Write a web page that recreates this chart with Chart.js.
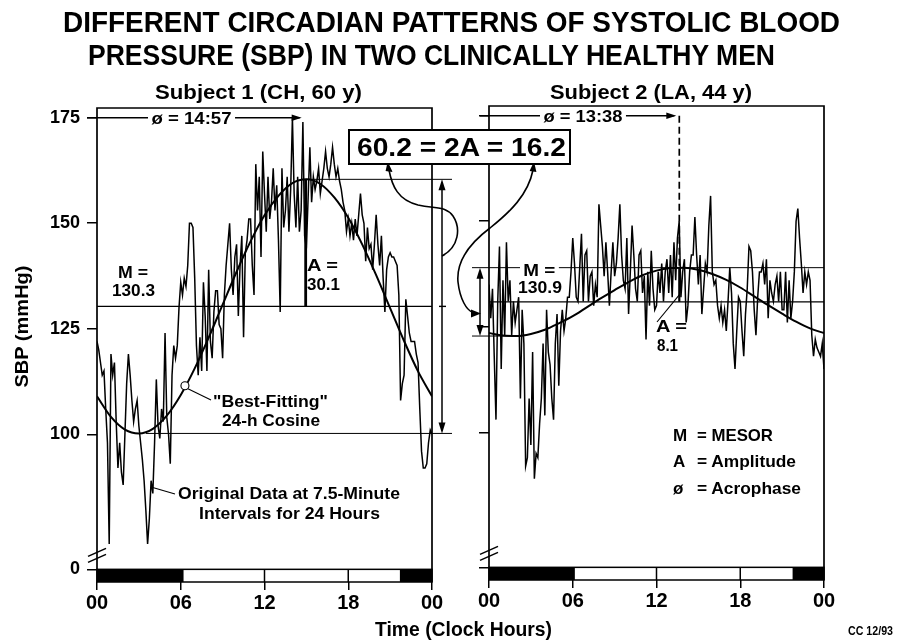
<!DOCTYPE html>
<html><head><meta charset="utf-8">
<script src="https://cdn.jsdelivr.net/npm/chart.js@4.4.1/dist/chart.umd.min.js"></script>
<style>
html,body{margin:0;padding:0;background:#fff;}
#wrap{position:relative;width:904px;height:641px;overflow:hidden;background:#fff;font-family:"Liberation Sans",Arial,sans-serif;font-weight:bold;color:#000;}
canvas{position:absolute;top:0;}
.t{position:absolute;white-space:nowrap;line-height:1;transform-origin:left top;}
#ov{position:absolute;left:0;top:0;}
#box{position:absolute;box-sizing:border-box;border:2px solid #000;background:#fff;}
</style></head><body>
<div id="wrap">
<canvas id="c1" width="452" height="641" style="left:0;width:452px;height:641px"></canvas>
<canvas id="c2" width="452" height="641" style="left:452px;width:452px;height:641px"></canvas>
<svg id="ov" width="904" height="641"></svg>
<div id="box" style="left:348px;top:129px;width:223px;height:36px"></div>
</div>
<script>
// ---------- data ----------
const xTickValues = [0, 6, 12, 18, 24];
const xTickLabels = ['00', '06', '12', '18', '00'];
const yTickValues = [68, 100, 125, 150, 175];
const yTickLabels = ['0', '100', '125', '150', '175'];
const sampleMinutes = 7.5;

// Subject 1 (CH, 60 y): SBP every 7.5 min, 00:00 -> 24:00
const sbpSubject1 = [
 122,120,117,114,115,106,98,74,
 119,114,117,103,92,98,91,88,
 100,112,119,114,108,103,106,108,
 102,98,94,89,82,74,80,89,
 86,98,113,102,99,106,103,124,
 104,100,93,114,121,118,121,130,
 136,133,137,135,140,150,150,149,
 137,121,114,123,115,136,128,115,
 139,122,118,129,134,134,126,125,
 118,133,140,145,150,139,133,142,
 145,128,140,147,123,143,146,151,
 151,140,133,164,153,161,142,167,
 157,148,161,151,155,163,153,159,
 146,129,163,149,153,161,148,158,
 175,157,149,161,148,153,174,147,
 144,156,168,155,161,158,160,163,
 157,160,163,167,163,161,164,168,
 164,161,163,160,158,155,153,148,
 151,147,150,146,151,147,152,157,
 152,150,141,149,144,145,139,145,
 152,145,140,147,137,129,139,142,
 143,142,142,141,140,133,108,112,
 114,132,128,124,122,122,122,119,
 117,106,96,92,92,93,98,101,
 100];

// Subject 2 (LA, 44 y)
const sbpSubject2 = [
 135,127,134,118,103,131,144,115,
 136,123,145,131,136,123,131,126,
 129,132,108,129,121,92,94,108,
 97,119,89,95,94,102,108,121,
 104,129,119,116,108,103,121,128,
 111,124,129,124,127,132,132,138,
 146,140,132,131,139,147,131,142,
 143,131,137,138,130,135,132,154,
 149,144,137,145,138,130,138,145,
 137,140,146,154,142,136,134,146,
 128,138,149,142,134,131,142,143,
 133,137,122,138,130,143,134,129,
 130,138,133,140,131,138,141,133,
 142,132,145,136,146,150,132,138,
 141,126,130,138,142,142,151,142,
 135,142,128,134,140,138,149,156,
 138,135,136,130,127,130,126,129,
 124,131,139,133,121,115,124,132,
 131,124,118,128,134,144,143,138,
 129,123,132,138,138,140,135,141,
 127,136,133,131,135,137,131,138,
 129,129,138,126,136,127,131,138,
 150,153,146,140,133,138,135,138,
 136,123,118,122,120,119,118,121,
 115];

// best-fitting 24-h cosine, read hourly
const cosineHours = [0,1,2,3,4,5,6,7,8,9,10,11,12,13,14,15,16,17,18,19,20,21,22,23,24];
const cosineSubject1 = [109.0,104.1,101.1,100.2,101.3,104.4,109.3,115.6,122.9,130.7,138.5,145.7,151.9,156.5,159.5,160.4,159.3,156.1,151.3,145.0,137.7,129.9,122.1,114.9,109.0];
const cosineSubject2 = [123.5,122.9,122.8,123.3,124.3,125.8,127.5,129.6,131.7,133.7,135.6,137.2,138.3,138.9,139.0,138.5,137.5,136.1,134.3,132.2,130.1,128.1,126.2,124.6,123.5];

const mesor = [130.3, 130.9];
const amplitude = [30.1, 8.1];
const acrophaseHours = [14.95, 13.633];
const acrophaseLabels = ['14:57', '13:38'];
const sleepEndHours = [6.2, 6.15];
const sleepStartHours = [21.7, 21.75];

// ---------- drawing ----------
Chart.defaults.font.family = '"Liberation Sans", Arial, sans-serif';
Chart.defaults.color = '#000';
const wrap = document.getElementById('wrap');

function seg(ctx, x1, y1, x2, y2, w) { ctx.lineWidth = w; ctx.beginPath(); ctx.moveTo(x1, y1); ctx.lineTo(x2, y2); ctx.stroke(); }
function head(ctx, x, y, ang, len, hw) {
  ctx.save(); ctx.translate(x, y); ctx.rotate(ang);
  ctx.beginPath(); ctx.moveTo(0, 0); ctx.lineTo(-len, -hw); ctx.lineTo(-len, hw); ctx.closePath(); ctx.fill();
  ctx.restore();
}

const annotPlugin = {
  id: 'annot',
  afterDraw(chart, args, o) {
    const ctx = chart.ctx, a = chart.chartArea;
    const X = v => chart.scales.x.getPixelForValue(v), Y = v => chart.scales.y.getPixelForValue(v);
    ctx.save(); ctx.strokeStyle = '#000'; ctx.fillStyle = '#000';
    // frame
    ctx.lineWidth = 1.7; ctx.beginPath();
    ctx.moveTo(a.left, a.bottom); ctx.lineTo(a.left, a.top); ctx.lineTo(a.right, a.top); ctx.lineTo(a.right, a.bottom); ctx.stroke();
    // light/dark bar
    const yb = Y(yTickValues[0]);
    ctx.fillRect(X(0), yb, X(o.sleepEnd) - X(0), a.bottom - yb);
    ctx.fillRect(X(o.sleepStart), yb, X(24) - X(o.sleepStart), a.bottom - yb);
    ctx.lineWidth = 1.5; ctx.strokeRect(X(0), yb, X(24) - X(0), a.bottom - yb);
    [12, 18].forEach(h => seg(ctx, X(h), yb, X(h), a.bottom, 1.5));
    // axis break
    seg(ctx, a.left - 9, yb - 13, a.left + 9, yb - 21, 1.5);
    seg(ctx, a.left - 9, yb - 7, a.left + 9, yb - 15, 1.5);

    const M = o.mesor, A = o.amp, P = X(o.acro), yP = Y(M + A), yT = Y(M - A), yM = Y(M), y175 = Y(175);
    if (o.side === 'L') {
      seg(ctx, a.left, yM, a.right, yM, 1.4);
      seg(ctx, a.right + 7, yM, a.right + 14, yM, 1.4);
      seg(ctx, P, yP, a.right + 20, yP, 1);
      seg(ctx, X(3.5), yT, a.right + 21, yT, 1);
      seg(ctx, P, yP, P, yM, 2.8);
      const dx = a.right + 10;
      seg(ctx, dx, yP + 3, dx, yT - 3, 1.5);
      head(ctx, dx, yP, -Math.PI / 2, 11, 3.5); head(ctx, dx, yT, Math.PI / 2, 11, 3.5);
      seg(ctx, a.left - 10, y175, P - 6, y175, 1.4); head(ctx, P - 4, y175, 0, 10, 3.2);
      // circle on cosine + leader
      const cx = X(6.3), cy = Y(111.5);
      seg(ctx, cx + 3, cy + 3, 211, 400, 1.1);
      ctx.beginPath(); ctx.arc(cx, cy, 4, 0, 2 * Math.PI); ctx.fillStyle = '#fff'; ctx.fill(); ctx.lineWidth = 1.1; ctx.stroke();
      ctx.fillStyle = '#000';
      // leader to original data
      seg(ctx, 151, 487, 175, 494, 1.1);
    } else {
      seg(ctx, a.left, yM, a.right, yM, 1.4);
      seg(ctx, a.left - 17, yP, a.right, yP, 1);
      seg(ctx, a.left - 17, yT, X(2.4), yT, 1);
      ctx.setLineDash([7, 4]); seg(ctx, P, y175, P, yP, 1.7); ctx.setLineDash([]);
      seg(ctx, P, yP, P, yM, 2.2);
      const dx = a.left - 9;
      seg(ctx, dx, yP + 3, dx, yT - 3, 1.5);
      head(ctx, dx, yP, -Math.PI / 2, 11, 3.5); head(ctx, dx, yT, Math.PI / 2, 11, 3.5);
      seg(ctx, a.left - 9, y175, P - 5, y175, 1.4); head(ctx, P - 3, y175, 0, 10, 3.2);
      // leader from "A =" label
      seg(ctx, 657 - 452, 322, P, yM - 7, 1.1);
    }
    ctx.restore();
  }
};

function makeChart(id, values, cosVals, k, layout) {
  const stepH = sampleMinutes / 60;
  return new Chart(document.getElementById(id), {
    type: 'line',
    data: {
      datasets: [
        { data: values.map((v, i) => ({ x: i * stepH, y: v })), borderColor: '#000', borderWidth: 1.5, pointRadius: 0, tension: 0 },
        { data: cosVals.map((v, i) => ({ x: cosineHours[i], y: v })), borderColor: '#000', borderWidth: 2, pointRadius: 0, cubicInterpolationMode: 'monotone' }
      ]
    },
    options: {
      responsive: false, animation: false, devicePixelRatio: 1,
      layout: { padding: { top: layout.top, right: layout.right, left: 0, bottom: 0 } },
      plugins: {
        legend: { display: false }, tooltip: { enabled: false },
        annot: { side: k === 0 ? 'L' : 'R', mesor: mesor[k], amp: amplitude[k], acro: acrophaseHours[k], sleepEnd: sleepEndHours[k], sleepStart: sleepStartHours[k] }
      },
      scales: {
        x: {
          type: 'linear', min: 0, max: 24,
          afterBuildTicks: s => { s.ticks = xTickValues.map(v => ({ value: v })); },
          afterFit: s => { s.height = layout.xh; },
          ticks: { callback: (v, i) => xTickLabels[i], font: { size: 20, weight: 'bold' }, color: '#000', padding: 1, maxRotation: 0, autoSkip: false },
          grid: { display: true, drawOnChartArea: false, drawTicks: true, tickLength: 8, color: '#000', lineWidth: 1.5 },
          border: { display: false }
        },
        y: {
          type: 'linear', min: 65, max: 177.3,
          afterBuildTicks: s => { s.ticks = yTickValues.map(v => ({ value: v })); },
          afterFit: s => { s.width = layout.yw; },
          ticks: { callback: (v, i) => k === 0 ? yTickLabels[i] : '', font: { size: 18, weight: 'bold' }, color: '#000', padding: 7, autoSkip: false },
          grid: { display: true, drawOnChartArea: false, drawTicks: true, tickLength: 10, color: '#000', lineWidth: 1.5 },
          border: { display: false }
        }
      }
    },
    plugins: [annotPlugin]
  });
}

makeChart('c1', sbpSubject1, cosineSubject1, 0, { top: 108, right: 20, xh: 59, yw: 97 });
makeChart('c2', sbpSubject2, cosineSubject2, 1, { top: 106, right: 80, xh: 61, yw: 37 });

// ---------- text ----------
function label(text, x, cy, w, fs, align, bg) {
  const d = document.createElement('div'); d.className = 't'; d.textContent = text; d.style.fontSize = fs + 'px';
  if (bg) { d.style.background = '#fff'; d.style.padding = '0 3px'; }
  wrap.appendChild(d);
  const nw = d.getBoundingClientRect().width;
  const inner = nw - (bg ? 6 : 0);
  const s = w ? w / inner : 1;
  const left = align === 'l' ? x - (bg ? 3 * s : 0) : x - nw * s / 2;
  d.style.left = left + 'px'; d.style.top = (cy - 0.482 * fs) + 'px'; d.style.transform = 'scaleX(' + s + ')';
  return d;
}
function vlabel(text, cx, cy, len, fs) {
  const d = document.createElement('div'); d.className = 't'; d.textContent = text; d.style.fontSize = fs + 'px';
  wrap.appendChild(d);
  const nw = d.getBoundingClientRect().width; const s = len / nw;
  d.style.left = (cx - nw / 2) + 'px'; d.style.top = (cy - fs / 2) + 'px';
  d.style.transformOrigin = 'center center'; d.style.transform = 'rotate(-90deg) scaleX(' + s + ')';
}

label('DIFFERENT CIRCADIAN PATTERNS OF SYSTOLIC BLOOD', 451.5, 21.5, 777, 29);
label('PRESSURE (SBP) IN TWO CLINICALLY HEALTHY MEN', 431.5, 54.5, 687, 29);
label('Subject 1 (CH, 60 y)', 258.5, 92, 207, 20);
label('Subject 2 (LA, 44 y)', 651, 92, 202, 20);
vlabel('SBP (mmHg)', 22, 326, 122, 19);
label('Time (Clock Hours)', 463.5, 628.5, 177, 20);
label('CC 12/93', 870.5, 631, 45, 12);

label('\u00f8 = ' + acrophaseLabels[0], 191, 118.5, 80, 16, 'c', true);
label('M =', 133, 272, 30, 17);
label(String(mesor[0]), 133.5, 290, 43, 17);
label('A =', 322.5, 265.5, 31, 17);
label(String(amplitude[0]), 323.5, 284, 33, 17);
label('"Best-Fitting"', 270.5, 401, 115, 17);
label('24-h Cosine', 271, 420, 98, 17);
label('Original Data at 7.5-Minute', 289, 493, 222, 17);
label('Intervals for 24 Hours', 289.5, 513, 181, 17);

label('\u00f8 = ' + acrophaseLabels[1], 582.5, 117, 79, 16, 'c', true);
label('M =', 539, 270, 32, 17, 'c', true);
label(String(mesor[1]), 540, 287.5, 44, 17);
label('A =', 671.5, 326.5, 31, 17);
label(String(amplitude[1]), 667.5, 345, 21, 17);

label('M', 673, 435, null, 17, 'l');
label('= MESOR', 697, 435, 76, 17, 'l');
label('A', 673, 461.5, null, 17, 'l');
label('= Amplitude', 697, 461.5, 99, 17, 'l');
label('\u00f8', 673, 488, null, 17, 'l');
label('= Acrophase', 697, 488, 104, 17, 'l');

label((2 * amplitude[0]).toFixed(1) + ' = 2A = ' + (2 * amplitude[1]).toFixed(1), 461.5, 146.5, 209, 26);

// curved pointers between the panels
const svg = document.getElementById('ov');
svg.innerHTML =
  '<g fill="none" stroke="#000" stroke-width="1.6">' +
  '<path d="M 389 170 C 392 186 398 200 418 205 C 436 209 446 206 453 216 C 461 228 459 247 442 256"/>' +
  '<path d="M 533 170 C 528 195 510 212 490 228 C 470 243 456 260 458 282 C 460 300 467 310 472 312"/>' +
  '</g><g fill="#000">' +
  '<polygon points="387.7,161.5 385.6,171 392.6,172"/>' +
  '<polygon points="534,161.5 529.6,171 536.4,172"/>' +
  '<polygon points="481,313.5 471,309.5 471,317.5"/>' +
  '</g>';
</script>
</body></html>
